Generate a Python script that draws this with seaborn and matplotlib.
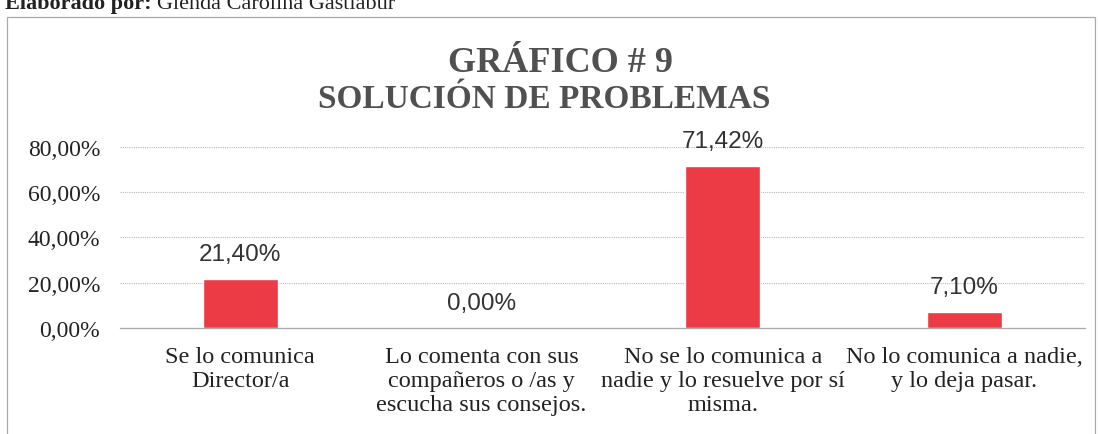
import pandas as pd
import matplotlib
matplotlib.use("Agg")
import matplotlib.pyplot as plt
import seaborn as sns
from matplotlib.patches import Rectangle
from matplotlib.ticker import FuncFormatter, FixedLocator

categories = [
    "Se lo comunica\nDirector/a",
    "Lo comenta con sus\ncompañeros o /as y\nescucha sus consejos.",
    "No se lo comunica a\nnadie y lo resuelve por sí\nmisma.",
    "No lo comunica a nadie,\ny lo deja pasar.",
]
values = [0.2140, 0.0, 0.7142, 0.0710]
value_labels = ["21,40%", "0,00%", "71,42%", "7,10%"]
y_ticks = [0.0, 0.2, 0.4, 0.6, 0.8]

df = pd.DataFrame({"categoria": categories, "valor": values})

sns.set_theme(style="white")
plt.rcParams["font.family"] = ["Liberation Serif", "DejaVu Serif"]

fig = plt.figure(figsize=(10.98, 4.35), dpi=100)
ax = fig.add_axes([0.109, 0.244, 0.879, 0.416])

sns.barplot(data=df, x="categoria", y="valor", color="#ec3b44", saturation=1,
            width=0.31, ax=ax)

ax.set_ylim(0, 0.8)
ax.set_xlim(-0.5, len(categories) - 0.5)
ax.set_yticks(y_ticks)
ax.yaxis.set_major_formatter(FuncFormatter(lambda v, p: f"{v*100:.2f}%".replace(".", ",")))
ax.tick_params(axis="y", length=0, pad=14, labelsize=17, labelcolor="#222222")
ax.tick_params(axis="x", length=0, pad=13, labelsize=17.5, labelcolor="#222222")
for lab in ax.get_xticklabels():
    lab.set_linespacing(1.2)
ax.xaxis.set_minor_locator(FixedLocator([i - 0.5 for i in range(len(categories) + 1)]))
ax.tick_params(axis="x", which="minor", length=5, width=0.8, color="#999999", direction="out")
ax.set_xlabel("")
ax.set_ylabel("")

ax.grid(axis="y", linestyle=(0, (1, 1)), color="#b8b8b8", linewidth=0.8)
ax.set_axisbelow(True)
for s in ["left", "right", "top"]:
    ax.spines[s].set_visible(False)
ax.spines["bottom"].set_color("#aaaaaa")
ax.spines["bottom"].set_linewidth(0.9)

for i, (v, t) in enumerate(zip(values, value_labels)):
    ax.annotate(t, (i, v), xytext=(0, 18), textcoords="offset points",
                ha="center", va="center", fontsize=17.5, color="#333333",
                family=["Liberation Sans", "DejaVu Sans"], annotation_clip=False)

# titles
fig.text(0.51, 0.855, "GRÁFICO # 9", ha="center", va="center", fontsize=26,
         fontweight="bold", color="#505050")
fig.text(0.496, 0.771, "SOLUCIÓN DE PROBLEMAS", ha="center", va="center",
         fontsize=24, fontweight="bold", color="#505050")

# frame around the chart
fig.patches.append(Rectangle((7 / 1098, -0.1), 1088 / 1098, 1.1 - 18 / 435,
                             transform=fig.transFigure, fill=False,
                             edgecolor="#aaaaaa", linewidth=0.9))

# header, cut off at the top
fig.text(5 / 1098, 1.0 - 9 / 435, "Elaborado por:", ha="left", va="baseline",
         fontsize=16, fontweight="bold", color="#222222")
fig.text(157 / 1098, 1.0 - 9 / 435, "Glenda Carolina Gastiabur", ha="left",
         va="baseline", fontsize=16, color="#222222")

fig.savefig("out.png", dpi=100)
